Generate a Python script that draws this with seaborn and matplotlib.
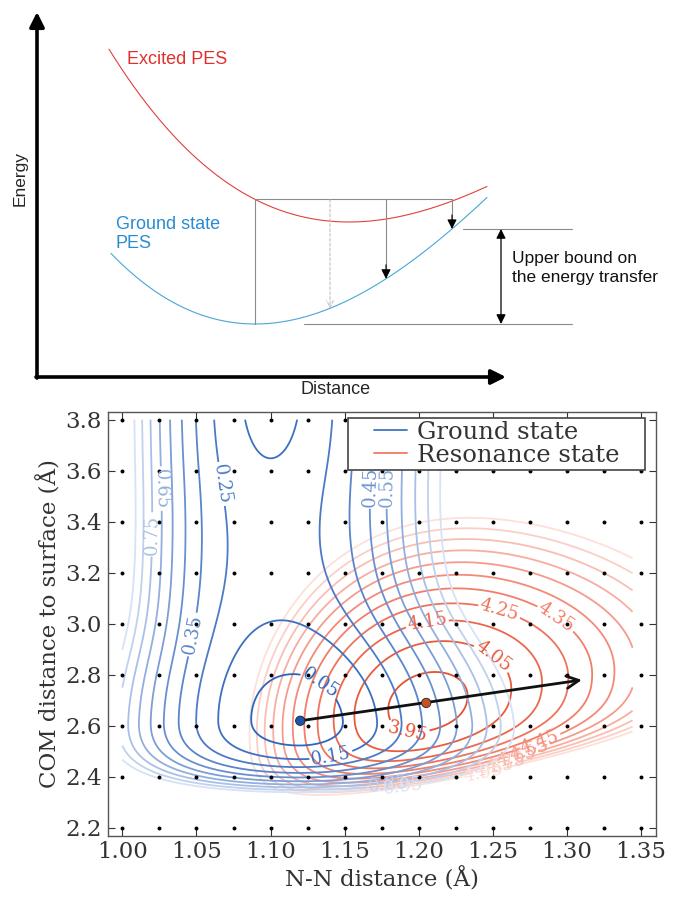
import numpy as np
import pandas as pd
import matplotlib
matplotlib.use("Agg")
import matplotlib.pyplot as plt
from matplotlib.colors import LinearSegmentedColormap
from matplotlib.lines import Line2D
from matplotlib.legend_handler import HandlerLine2D
import seaborn as sns

# ------------------------------------------------------------------ data
ground_levels = [0.05, 0.15, 0.25, 0.35, 0.45, 0.55, 0.65, 0.75, 0.85, 0.95]
resonance_levels = [3.95, 4.05, 4.15, 4.25, 4.35, 4.45, 4.55, 4.65, 4.75, 4.85, 4.95]
nn_ticks = [1.00, 1.05, 1.10, 1.15, 1.20, 1.25, 1.30, 1.35]
com_ticks = [2.2, 2.4, 2.6, 2.8, 3.0, 3.2, 3.4, 3.6, 3.8]
dot_nn = [1.0 + 0.025 * i for i in range(15)]
dot_com = com_ticks
ground_min = [1.12, 2.62]
resonance_min = [1.205, 2.69]
arrow_end = [1.31, 2.78]
series_names = ["Ground state", "Resonance state"]

# model parameters of the two surfaces
g_far_nn, g_near_shift = 1.10, 0.02
g_morse = (16.5, 2.2)
g_soft_left, g_soft_right = 0.25, 0.15
g_well_z, g_wall = 2.62, (0.075, 0.10)
g_barrier, g_barrier_w = 0.21, 0.35
g_far_drop, g_far_z = 0.10, 3.60
g_far_level = 0.121
r_min_e, r_morse = 3.915, (4.8, 3.2)
r_shear, r_up, r_wall = 1.0, 2.6, (0.022, 0.08)
r_nn_max = 1.345

# where the contour labels sit (one per level)
ground_label_pos = [(1.134, 2.77), (1.141, 2.474), (1.069, 3.55), (1.054, 2.95), (1.172, 3.537),
                    (1.187, 3.537), (1.0285, 3.53), (1.0216, 3.35), (1.18, 2.35), (1.19, 2.345)]
resonance_label_pos = [(1.193, 2.596), (1.247, 2.847), (1.207, 2.957), (1.251, 2.984), (1.286, 2.965),
                       (1.284, 2.50), (1.275, 2.49), (1.266, 2.48), (1.258, 2.47), (1.25, 2.46),
                       (1.242, 2.45)]

# schematic (top panel), in pixel units of the drawing
exc_min_px, exc_k = [349, 222], (0.00228, 3.0e-6)
gnd_min_px, gnd_k = [255, 324], (0.0030, 2.8e-6)
exc_span, gnd_span = [109, 487], [111, 487]
transition_x = [330, 386, 452]

# ------------------------------------------------------------------ surfaces
nn = np.linspace(1.0, 1.35, 421)
com = np.linspace(2.2, 3.8, 401)
NN, COM = np.meshgrid(nn, com)

near = 1.0 / (1.0 + np.exp((COM - 2.95) / 0.12))
x0 = g_far_nn + g_near_shift * near
dx = NN - x0
dxs = np.where(dx < 0, dx * (1 - g_soft_left * near), dx * (1 - g_soft_right * near))
Ex = g_morse[0] * (1 - np.exp(-g_morse[1] * dxs)) ** 2
d = COM - g_well_z
t = np.clip(-d / g_wall[1], 0, 30)
Vdown = g_wall[0] * (np.exp(t) - 1 - t)
Vup = g_barrier * (1 - np.exp(-(d / g_barrier_w) ** 2)) \
    - g_far_drop / (1 + np.exp(-(COM - g_far_z) / 0.12))
Vsmooth = g_far_level * (1 - np.exp(-(np.clip(d, 0, None) / 0.5) ** 2))
att = 0.35 + 0.65 * np.exp(-(dx / 0.045) ** 2)
Vz = np.where(d < 0, Vdown, att * Vup + (1 - att) * Vsmooth)
E_ground = Ex + Vz

u = NN - resonance_min[0]
w = COM - resonance_min[1] - r_shear * u
Exr = r_morse[0] * (1 - np.exp(-r_morse[1] * u)) ** 2
tw = np.clip(-w / r_wall[1], 0, 30)
Ezr = np.where(w >= 0, r_up * w ** 2 * (1 - 0.3 * w), r_wall[0] * (np.exp(tw) - 1 - tw))
E_res = r_min_e + Exr + Ezr
E_res = np.where(NN > r_nn_max, np.nan, E_res)

# ------------------------------------------------------------------ figure
sns.set_style("ticks")
plt.rcParams["font.family"] = ["DejaVu Serif"]
fig = plt.figure(figsize=(6.85, 8.97), dpi=100)

# ---------------- top schematic
axt = fig.add_axes([0, (897 - 395) / 897, 1, 395 / 897])
axt.set_xlim(0, 685)
axt.set_ylim(395, 0)
axt.axis("off")


def exc_y(x):
    dd = np.asarray(x, float) - exc_min_px[0]
    return exc_min_px[1] - (exc_k[0] * dd ** 2 - exc_k[1] * dd ** 3)


def gnd_y(x):
    dd = np.asarray(x, float) - gnd_min_px[0]
    return gnd_min_px[1] - (gnd_k[0] * dd ** 2 - gnd_k[1] * dd ** 3)


xe = np.linspace(*exc_span, 300)
xg = np.linspace(*gnd_span, 300)
sns.lineplot(x=xe, y=exc_y(xe), ax=axt, color="#e0403c", lw=0.8, sort=False)
sns.lineplot(x=xg, y=gnd_y(xg), ax=axt, color="#48a6d6", lw=0.8, sort=False)

top_level = float(exc_y(gnd_min_px[0]))
gray = "#8a8a8a"
axt.plot([gnd_min_px[0], transition_x[-1]], [top_level, top_level], color=gray, lw=0.8)
axt.plot([gnd_min_px[0], gnd_min_px[0]], [top_level, gnd_min_px[1]], color=gray, lw=0.8)
for i, xa in enumerate(transition_x):
    yb = float(gnd_y(xa))
    if i == 0:
        axt.annotate("", xy=(xa, yb), xytext=(xa, top_level),
                     arrowprops=dict(arrowstyle="->", color="#b8b8b8", lw=0.7,
                                     linestyle=(0, (3, 2)), shrinkA=0, shrinkB=0,
                                     mutation_scale=12))
    else:
        axt.plot([xa, xa], [top_level, yb - 6], color=gray, lw=0.8)
        axt.annotate("", xy=(xa, yb), xytext=(xa, yb - 14),
                     arrowprops=dict(arrowstyle="-|>", color="black", lw=0.8,
                                     shrinkA=0, shrinkB=0, mutation_scale=14))
ub_top = float(gnd_y(transition_x[-1]))
axt.plot([463, 572], [ub_top, ub_top], color=gray, lw=0.8)
axt.plot([304, 572], [gnd_min_px[1], gnd_min_px[1]], color=gray, lw=0.8)
axt.annotate("", xy=(501, ub_top), xytext=(501, gnd_min_px[1]),
             arrowprops=dict(arrowstyle="<|-|>", color="black", lw=0.9,
                             shrinkA=0, shrinkB=0, mutation_scale=14))
axt.annotate("", xy=(37, 12), xytext=(37, 378),
             arrowprops=dict(arrowstyle="-|>", color="black", lw=2.6,
                             shrinkA=0, shrinkB=0, mutation_scale=22))
axt.annotate("", xy=(506, 377), xytext=(36, 377),
             arrowprops=dict(arrowstyle="-|>", color="black", lw=2.6,
                             shrinkA=0, shrinkB=0, mutation_scale=22))
sans = ["Liberation Sans", "DejaVu Sans"]
axt.text(127, 60, "Excited PES", color="#e0302c", fontsize=13, family=sans,
         ha="left", va="center")
axt.text(116, 234, "Ground state\nPES", color="#2a8cd0", fontsize=13, family=sans,
         ha="left", va="center", linespacing=1.15)
axt.text(512, 268, "Upper bound on\nthe energy transfer", color="#111111", fontsize=12.5,
         family=sans, ha="left", va="center", linespacing=1.3)
axt.text(20, 178, "Energy", rotation=90, fontsize=12.5, family=sans, ha="center", va="center")
axt.text(336, 389, "Distance", fontsize=13, family=sans, ha="center", va="center")

# ---------------- bottom contour plot
ax = fig.add_axes([107.5 / 685, (897 - 835.6) / 897, (656 - 107.5) / 685, (835.6 - 412) / 897])

blue_cmap = LinearSegmentedColormap.from_list("gb", ["#2f66bc", "#6f95d2", "#d6e2f5"])
red_cmap = LinearSegmentedColormap.from_list("rr", ["#e8502f", "#f48a78", "#fde0d8"])
blue_cols = [blue_cmap(i / (len(ground_levels) - 1)) for i in range(len(ground_levels))]
red_cols = [red_cmap(i / (len(resonance_levels) - 1)) for i in range(len(resonance_levels))]

# one contour set per level so every label can be put on its own line
for lev, col, pos in zip(resonance_levels, red_cols, resonance_label_pos):
    cs = ax.contour(NN, COM, E_res, levels=[lev], colors=[col], linewidths=1.3, zorder=2)
    ax.clabel(cs, fmt="%.2f", fontsize=13, inline=True, inline_spacing=3, manual=[pos])
for lev, col, pos in zip(ground_levels, blue_cols, ground_label_pos):
    cs = ax.contour(NN, COM, E_ground, levels=[lev], colors=[col], linewidths=1.3, zorder=3)
    ax.clabel(cs, fmt="%.2f", fontsize=13, inline=True, inline_spacing=3, manual=[pos])

dots = pd.DataFrame([(a, b) for a in dot_nn for b in dot_com], columns=["nn", "com"])
sns.scatterplot(data=dots, x="nn", y="com", ax=ax, color="black", s=8, linewidth=0, zorder=4)

ax.annotate("", xy=tuple(arrow_end), xytext=tuple(ground_min),
            arrowprops=dict(arrowstyle="->", color="#111111", lw=2.0, shrinkA=0, shrinkB=0,
                            mutation_scale=22), zorder=6)
mins = pd.DataFrame({"nn": [ground_min[0], resonance_min[0]],
                     "com": [ground_min[1], resonance_min[1]],
                     "state": series_names})
sns.scatterplot(data=mins, x="nn", y="com", hue="state", palette=["#1f55a8", "#c8521f"],
                ax=ax, s=45, edgecolor="#222222", linewidth=0.6, zorder=7, legend=False)

ax.set_xlim(0.99, 1.36)
ax.set_ylim(2.17, 3.83)
ax.set_xticks(nn_ticks)
ax.set_xticklabels([f"{v:.2f}" for v in nn_ticks])
ax.set_yticks(com_ticks)
ax.set_yticklabels([f"{v:.1f}" for v in com_ticks])
ax.tick_params(direction="in", length=5, width=0.8, top=True, right=True,
               labelsize=16.5, colors="#333333", labelcolor="#333333", pad=4)
for s in ax.spines.values():
    s.set_color("#555555")
    s.set_linewidth(1.0)
ax.set_xlabel("N-N distance (Å)", fontsize=16.5, color="#333333", labelpad=3)
ax.set_ylabel("COM distance to surface (Å)", fontsize=16.5, color="#333333", labelpad=3)


class ShortLine(HandlerLine2D):
    def get_xdata(self, legend, xdescent, ydescent, width, height, fontsize):
        xs = np.array([-xdescent + 0.42 * width, -xdescent + width])
        return xs, xs


handles = [Line2D([0], [0], color="#3f76c8", lw=1.3), Line2D([0], [0], color="#f07a66", lw=1.3)]
leg = ax.legend(handles, series_names, loc="upper left",
                bbox_to_anchor=(0.438, 0.858, 0.542, 0.128), mode="expand",
                borderaxespad=0, fontsize=17.5, frameon=True, fancybox=False, framealpha=1,
                edgecolor="#444444", handlelength=2.3, handletextpad=0.42,
                labelspacing=0.0, borderpad=0.12,
                handler_map={Line2D: ShortLine()})
leg.get_frame().set_linewidth(1.2)
leg.set_zorder(10)
for txt in leg.get_texts():
    txt.set_color("#333333")

fig.savefig("out.png", dpi=100)
